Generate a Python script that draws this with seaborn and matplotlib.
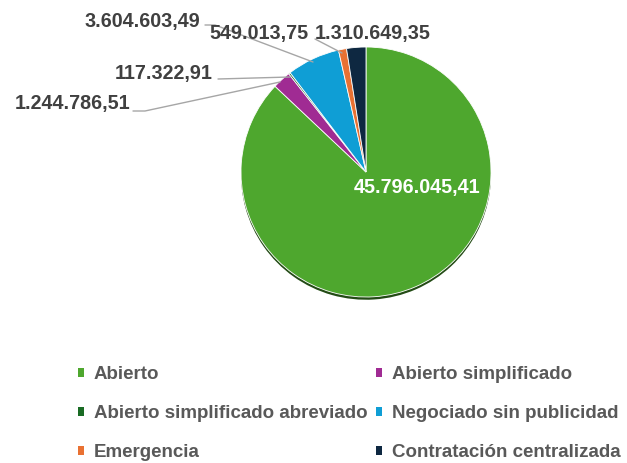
import matplotlib
matplotlib.use("Agg")
import matplotlib.pyplot as plt
import seaborn as sns

# procedure types and the amount awarded for each one
categorias = ["Abierto", "Abierto simplificado", "Abierto simplificado abreviado",
              "Negociado sin publicidad", "Emergencia", "Contratación centralizada"]
importes = [45796045.41, 1244786.51, 117322.91, 3604603.49, 549013.75, 1310649.35]
etiquetas = ["45.796.045,41", "1.244.786,51", "117.322,91",
             "3.604.603,49", "549.013,75", "1.310.649,35"]
colores = ["#4EA72E", "#A02B93", "#196B24", "#0F9ED5", "#E97132", "#0E2841"]

sns.set_theme(style="white")
plt.rcParams['font.family'] = ['Liberation Sans', 'DejaVu Sans']
paleta = sns.color_palette(colores)
sombra = [tuple(c * 0.45 for c in col) for col in paleta]

fig = plt.figure(figsize=(6.27, 4.63), dpi=100)
ax = fig.add_axes([0, 0, 1, 1])

# darker copy slightly lower gives the bevel/shadow at the bottom
ax.pie(importes, colors=sombra, startangle=90, counterclock=False,
       center=(0, -0.022), wedgeprops=dict(linewidth=0))
wedges, _ = ax.pie(importes, colors=paleta, startangle=90, counterclock=False,
                   wedgeprops=dict(edgecolor="white", linewidth=0.6))

# pixel -> data helpers (1 unit = 125 px, pie centre at 366,172)
R = 125.0
cx, cy = 366, 172
def px(x, y):
    return ((x - cx) / R, (cy - y) / R)

ax.set_xlim(-cx / R, (627 - cx) / R)
ax.set_ylim(-(463 - cy) / R, cy / R)
ax.set_aspect('equal')

fs = 13.5
fs_lab = 14.2
# big label inside the green slice
ax.text(*px(417, 187), etiquetas[0], color="white", fontsize=fs_lab,
        fontweight="bold", ha="center", va="center")

# outer labels: (text anchor pixel, ha, leader line pixels)
posiciones = {
    1: ((130, 103), "right", [(133, 111), (145, 111), (280, 82)]),
    2: ((213, 74), "right", [(218, 79), (290, 77)]),
    3: ((200, 22), "right", [(205, 25), (215, 25), (313, 62)]),
    4: ((308, 33), "right", [(315, 39), (342, 53)]),
    5: ((315, 33), "left", None),
}
for i, (pos, ha, linea) in posiciones.items():
    ax.text(*px(*pos), etiquetas[i], color="#404040", fontsize=fs_lab,
            fontweight="bold", ha=ha, va="center", zorder=5)
    if linea:
        xs = [px(*p)[0] for p in linea]
        ys = [px(*p)[1] for p in linea]
        ax.plot(xs, ys, color="#A6A6A6", lw=1, zorder=1)

# legend, column-major order so it reads row by row like the original
orden = [0, 2, 4, 1, 3, 5]
leg = ax.legend([wedges[i] for i in orden], [categorias[i] for i in orden],
                ncol=2, loc="upper left", bbox_to_anchor=(0.124, 0.209),
                frameon=False, fontsize=fs, handlelength=0.35, handleheight=0.35,
                handletextpad=0.5, labelspacing=1.17, columnspacing=0.45,
                borderpad=0, borderaxespad=0)
for t in leg.get_texts():
    t.set_color("#595959")
    t.set_fontweight("bold")
for h in leg.legend_handles:
    h.set_edgecolor("none")

ax.axis("off")
fig.savefig("out.png", dpi=100)
